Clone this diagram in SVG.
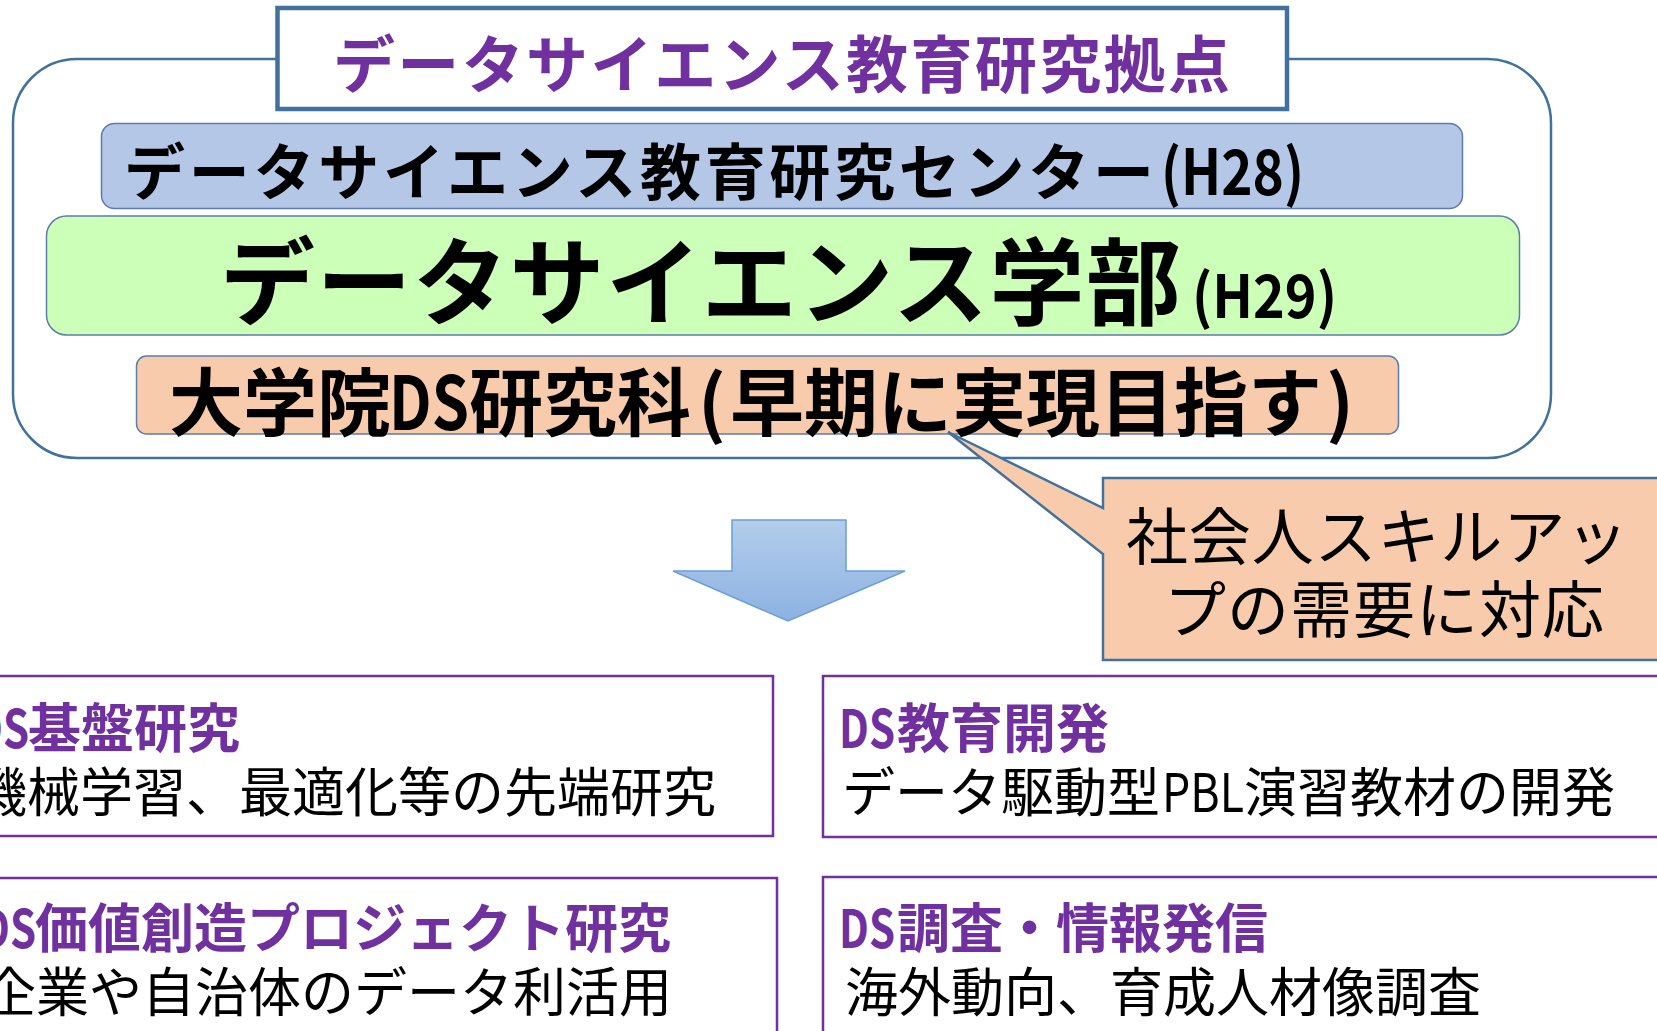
<svg xmlns="http://www.w3.org/2000/svg" width="1657" height="1031" viewBox="0 0 1657 1031">
  <defs>
    <linearGradient id="arrowGrad" x1="0" y1="0" x2="0" y2="1">
      <stop offset="0" stop-color="#B3CDEB"/>
      <stop offset="1" stop-color="#8CB2E2"/>
    </linearGradient>
    <style>
      text { font-family: "Noto Sans CJK JP", "Noto Sans CJK SC", sans-serif; }
      .b { font-weight: 700; }
      .r { font-weight: 400; }
      .purple { fill: #7030A0; }
      .black { fill: #000000; }
      .shape { stroke: #41719C; }
      .thin { stroke: #5B7DAE; stroke-width: 1.5; }
      .pbox { fill: #FFFFFF; stroke: #7030A0; stroke-width: 2.5; }
    </style>
  </defs>
  <rect width="1657" height="1031" fill="#FFFFFF"/>

  <g id="node-outer">
    <rect x="13" y="59" width="1538" height="399" rx="64" ry="64" fill="#FFFFFF" stroke="#41719C" stroke-width="2.5"/>
  </g>

  <g id="node-title">
    <rect x="277.5" y="8" width="1009.5" height="101" fill="#FFFFFF" stroke="#41719C" stroke-width="4.5"/>
    <text class="b purple" x="333" y="88" font-size="62" textLength="897">データサイエンス教育研究拠点</text>
  </g>

  <g id="node-center">
    <rect x="101.5" y="123.5" width="1361" height="85" rx="13" ry="13" fill="#B4C7E7" class="thin"/>
    <text class="b black" y="194.5" font-size="61"><tspan x="124" textLength="1030">データサイエンス教育研究センター</tspan><tspan x="1161" font-size="63" textLength="143" lengthAdjust="spacingAndGlyphs">(H28)</tspan></text>
  </g>

  <g id="node-faculty">
    <rect x="46.5" y="216" width="1473" height="119" rx="20" ry="20" fill="#CCFFB8" class="thin"/>
    <text class="b black" y="318"><tspan x="220" font-size="95" textLength="961">データサイエンス学部</tspan><tspan x="1192" font-size="60" textLength="145" lengthAdjust="spacingAndGlyphs">(H29)</tspan></text>
  </g>

  <g id="node-grad">
    <rect x="136.5" y="356" width="1262" height="78" rx="10" ry="10" fill="#F8CBAD" class="thin"/>
    <text class="b black" y="430" font-size="74"><tspan x="169">大学院</tspan><tspan x="389" textLength="80" lengthAdjust="spacingAndGlyphs">DS</tspan><tspan x="469">研究科</tspan><tspan x="698">(</tspan><tspan x="730">早期に実現目指す</tspan><tspan x="1326">)</tspan></text>
  </g>

  <g id="node-callout">
    <path d="M1103,478 L1670,478 L1670,660 L1103,660 L1103,554 L948,432 L1103,508 Z" fill="#F8CBAD" stroke="#41719C" stroke-width="2.5" stroke-linejoin="miter"/>
    <text class="r black" font-size="62"><tspan x="1126" y="560" textLength="502">社会人スキルアッ</tspan><tspan x="1164" y="633" textLength="440">プの需要に対応</tspan></text>
  </g>

  <g id="connectors">
    <polygon points="732,520 846,520 846,571 905,571 788,621 673,571 732,571" fill="url(#arrowGrad)" stroke="#6C9FD6" stroke-width="1.5" stroke-linejoin="miter"/>
  </g>

  <g id="node-ds-basic">
    <rect class="pbox" x="-50" y="676" width="823" height="160"/>
    <text class="b purple" y="748" font-size="53"><tspan x="-27" textLength="56" lengthAdjust="spacingAndGlyphs">DS</tspan><tspan x="28">基盤研究</tspan></text>
    <text class="r black" x="-26" y="812" font-size="53">機械学習、最適化等の先端研究</text>
  </g>

  <g id="node-ds-edu">
    <rect class="pbox" x="823" y="676" width="900" height="161"/>
    <text class="b purple" y="748" font-size="53"><tspan x="839" textLength="56" lengthAdjust="spacingAndGlyphs">DS</tspan><tspan x="897">教育開発</tspan></text>
    <text class="r black" y="812" font-size="53"><tspan x="842">データ駆動型</tspan><tspan x="1162" textLength="82" lengthAdjust="spacingAndGlyphs">PBL</tspan><tspan x="1244">演習教材の開発</tspan></text>
  </g>

  <g id="node-ds-value">
    <rect class="pbox" x="-50" y="878" width="827" height="220"/>
    <text class="b purple" y="948" font-size="53"><tspan x="-20" textLength="56" lengthAdjust="spacingAndGlyphs">DS</tspan><tspan x="35">価値創造プロジェクト研究</tspan></text>
    <text class="r black" x="-17" y="1012" font-size="53">企業や自治体のデータ利活用</text>
  </g>

  <g id="node-ds-survey">
    <rect class="pbox" x="823" y="877" width="900" height="220"/>
    <text class="b purple" y="948" font-size="53"><tspan x="839" textLength="56" lengthAdjust="spacingAndGlyphs">DS</tspan><tspan x="897">調査・情報発信</tspan></text>
    <text class="r black" x="845" y="1012" font-size="53">海外動向、育成人材像調査</text>
  </g>
</svg>
